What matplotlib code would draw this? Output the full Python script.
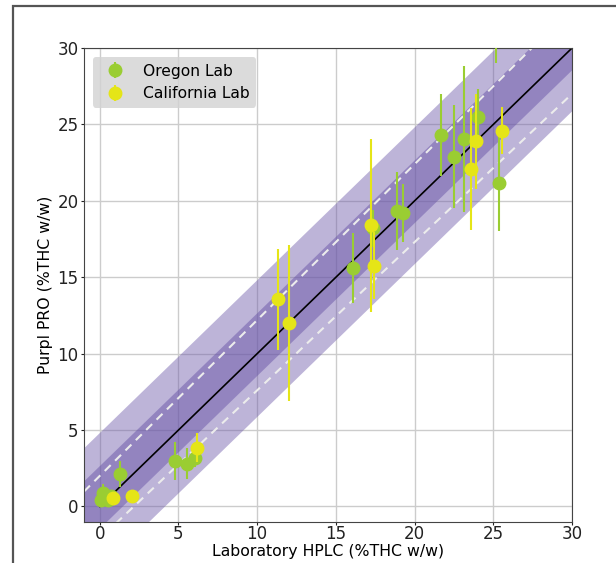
import matplotlib
matplotlib.use("Agg")
import matplotlib.pyplot as plt
from matplotlib.patches import Rectangle

# Mesures des deux labos (x = HPLC labo, y = Purpl PRO, err = barre verticale)
oregon_x = [0.1, 0.2, 0.5, 0.7, 1.27, 4.77, 5.55, 6.04, 16.06, 17.38, 18.86, 19.24,
            21.66, 22.5, 23.16, 24.05, 25.2, 25.37]
oregon_y = [0.4, 0.85, 0.45, 0.7, 2.1, 3.0, 2.8, 3.2, 15.6, 18.2, 19.35, 19.2,
            24.3, 22.9, 24.05, 25.5, 31.8, 21.15]
oregon_err = [0.3, 0.6, 0.3, 0.3, 0.85, 1.25, 1.0, 0.6, 2.3, 1.2, 2.55, 1.9,
              2.7, 3.4, 4.8, 1.8, 2.8, 3.1]

cal_x = [0.85, 2.05, 6.15, 11.34, 12.0, 17.2, 17.4, 23.6, 23.9, 25.58]
cal_y = [0.55, 0.67, 3.84, 13.55, 12.0, 18.4, 15.75, 22.1, 23.9, 24.6]
cal_err = [0.3, 0.3, 0.95, 3.3, 5.1, 5.65, 2.2, 4.0, 3.1, 1.55]

# Bandes et lignes lues aux bords du graphe (x = -1 et x = 30)
bord_x = [-1, 30]
bande_large_bas = [-5.15, 25.85]
bande_large_haut = [3.8, 34.8]
bande_etroite_bas = [-2.4, 28.6]
bande_etroite_haut = [1.7, 32.7]
tirets_haut = [0.98, 32.6]
tirets_bas = [-3.07, 27.0]
identite = [0, 30]

fig = plt.figure(figsize=(6.16, 5.63), dpi=100)
ax = fig.add_axes([0.1364, 0.0733, 0.7922, 0.8414])

ax.fill_between(bord_x, bande_large_bas, bande_large_haut,
                color="#6e5aaa", alpha=0.45, lw=0, zorder=1)
ax.fill_between(bord_x, bande_etroite_bas, bande_etroite_haut,
                color="#6a56a8", alpha=0.5, lw=0, zorder=1)
ax.plot(bord_x, tirets_haut, color="#ececec", lw=1.5, ls=(0, (4, 3)), zorder=2)
ax.plot(bord_x, tirets_bas, color="#ececec", lw=1.5, ls=(0, (4, 3)), zorder=2)
ax.plot(identite, identite, color="black", lw=1.2, zorder=2)

ax.errorbar(oregon_x, oregon_y, yerr=oregon_err, fmt="o", color="#9acd32",
            ms=9, elinewidth=1.5, capsize=0, label="Oregon Lab", zorder=3)
ax.errorbar(cal_x, cal_y, yerr=cal_err, fmt="o", color="#e5e517",
            ms=9, elinewidth=1.5, capsize=0, label="California Lab", zorder=4)

ax.set_xlim(-1, 30)
ax.set_ylim(-1, 30)
ax.set_xticks(range(0, 31, 5))
ax.set_yticks(range(0, 31, 5))
ax.tick_params(labelsize=12, colors="#222222", length=2.5, pad=1.5)
ax.tick_params(axis="x", length=2, pad=0.3)
ax.grid(True, color="#cccccc", lw=1, zorder=0)
ax.set_axisbelow(True)
for s in ax.spines.values():
    s.set_color("#444444")

ax.set_xlabel("Laboratory HPLC (%THC w/w)", fontsize=11.3, labelpad=1)
ax.set_ylabel("Purpl PRO (%THC w/w)", fontsize=11.3, labelpad=3)

leg = ax.legend(loc="upper left", fontsize=11.2, facecolor="lightgray",
                edgecolor="none", framealpha=0.8, borderaxespad=0.6)

# Cadre autour de la figure (coupé à droite et en bas)
fig.add_artist(Rectangle((13 / 616, -0.5), 2, 0.5 + 1 - 6 / 563,
                         transform=fig.transFigure, fill=False,
                         edgecolor="#555555", lw=1.6, clip_on=False))

fig.savefig("out.png", dpi=100)
